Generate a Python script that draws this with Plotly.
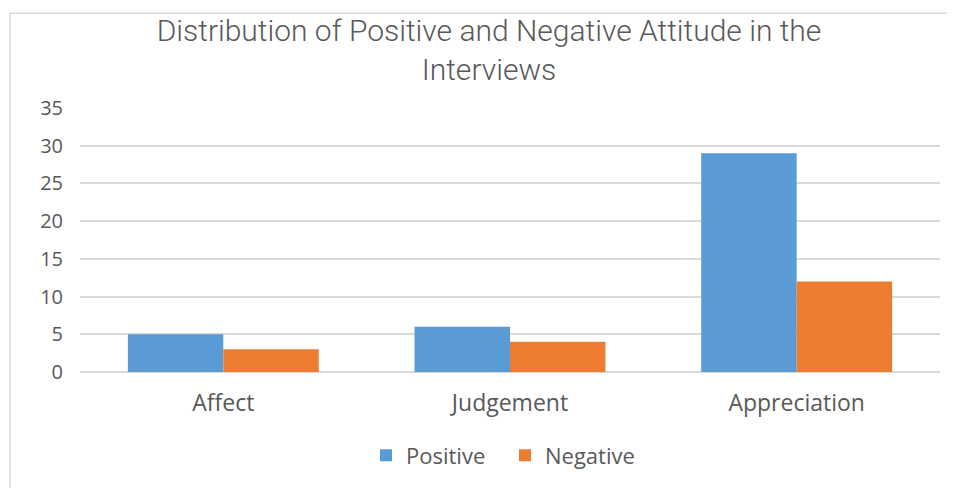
import plotly.graph_objects as go

categories = ["Affect", "Judgement", "Appreciation"]
positive = [5, 6, 29]
negative = [3, 4, 12]
series_names = ["Positive", "Negative"]
y_ticks = [0, 5, 10, 15, 20, 25, 30, 35]

D = 8  # page body margin offset
W, H = 955 - D, 488 - D
L, R, T, B = 80 - D, 940 - D, 108 - D, 374 - D

fig = go.Figure()
fig.add_trace(go.Bar(name=series_names[0], x=categories, y=positive, marker=dict(color="#5b9bd5", line=dict(width=0))))
fig.add_trace(go.Bar(name=series_names[1], x=categories, y=negative, marker=dict(color="#ed7d31", line=dict(width=0))))

pw, ph = R - L, B - T
def px(x):
    return (x - D - L) / pw
def py(y):
    return (B - (y - D)) / ph

fig.update_layout(
    width=W, height=H,
    margin=dict(l=L, r=W - R, t=T, b=H - B, pad=0),
    paper_bgcolor="white", plot_bgcolor="white",
    barmode="group", bargap=0.334, bargroupgap=0,
    title=dict(text="Distribution of Positive and Negative Attitude in the<br>Interviews",
               x=(489 - D) / W, xanchor="center", y=1 - (41 - D) / H, yanchor="middle",
               font=dict(family="Roboto, sans-serif", size=30, weight=300, color="#595959")),
    font=dict(family="Open Sans, sans-serif", size=20, color="#595959"),
    legend=dict(orientation="h", x=(505 - D - L) / pw, xanchor="center", y=py(458), yanchor="middle",
                font=dict(size=22, color="#595959"), traceorder="normal", entrywidth=94),
    xaxis=dict(showgrid=False, showline=False, ticks="", tickfont=dict(size=23), ticklabelstandoff=15),
    yaxis=dict(range=[0, 35], tickvals=y_ticks, showgrid=True, gridcolor="#d9d9d9", gridwidth=1.5,
               zeroline=True, zerolinecolor="#d9d9d9", zerolinewidth=1.5, showline=False,
               ticks="", ticklabelstandoff=16, tickfont=dict(size=20)),
    showlegend=True,
)

fig.add_shape(type="line", xref="paper", yref="paper", x0=px(10), x1=px(W + 20), y0=py(12.5), y1=py(12.5),
              line=dict(color="#d9d9d9", width=1.5))
fig.add_shape(type="line", xref="paper", yref="paper", x0=px(10), x1=px(10), y0=py(12.5), y1=py(H + 20),
              line=dict(color="#d9d9d9", width=1.5))

fig.write_html("out.html")
